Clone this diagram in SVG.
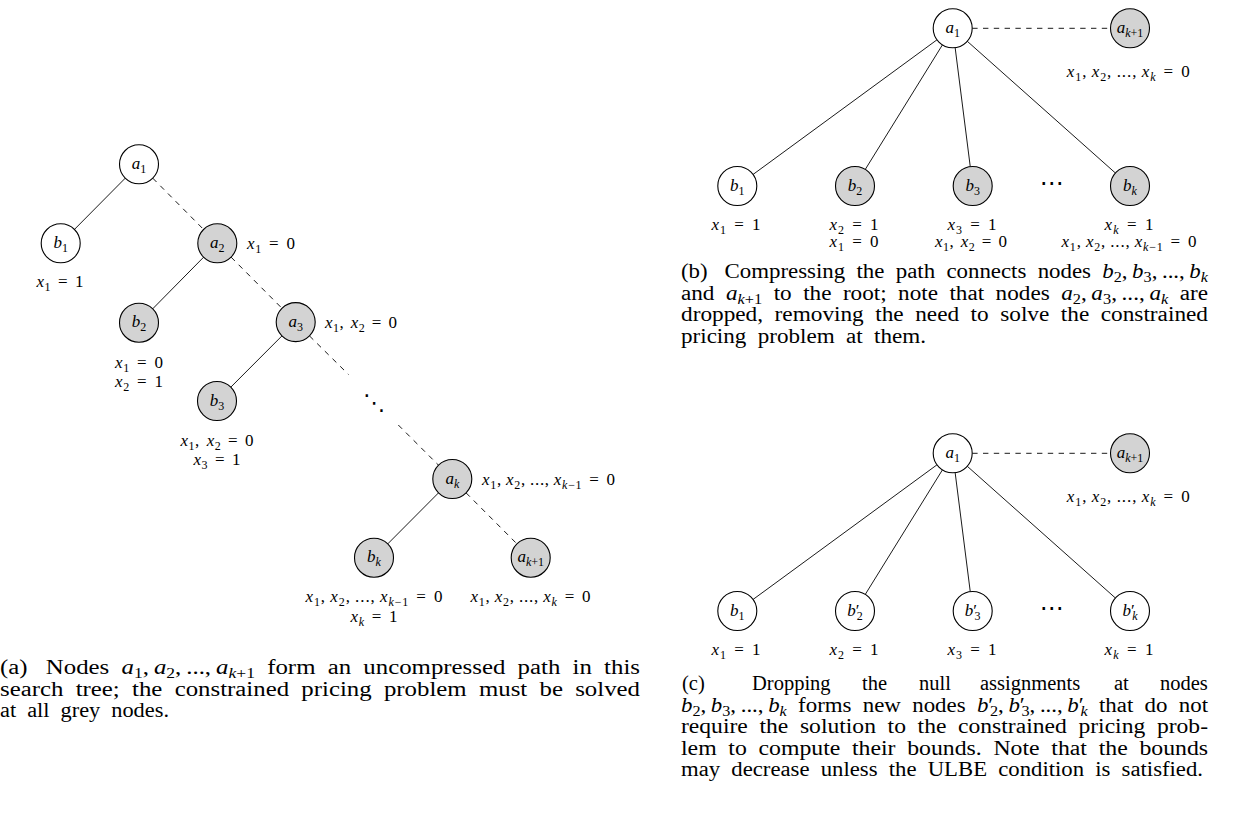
<svg xmlns="http://www.w3.org/2000/svg" width="1257" height="819" viewBox="0 0 1257 819">
<style>
.n{stroke:#000;stroke-width:1.1}
.w{fill:#fff}
.g{fill:#d3d3d3}
.e{stroke:#000;stroke-width:0.9;fill:none}
.d{stroke-dasharray:5.4 5.4}
text{font-family:"Liberation Serif","Times New Roman",serif;fill:#000}
.t{font-size:17px;word-spacing:2px}
.m{text-anchor:middle}
.i{font-style:italic}
.s{font-size:12px;baseline-shift:-3.5px}
.c{font-size:20.5px;word-spacing:5px}
.cs{font-size:14.5px;baseline-shift:-4px}
.dt{font-family:"DejaVu Sans",sans-serif;text-anchor:middle}
</style>
<rect width="1257" height="819" fill="#fff"/>
<g id="connectors">
<line class="e" x1="125.27" y1="178.15" x2="74.43" y2="229.45"/>
<line class="e d" x1="152.73" y1="178.15" x2="203.57" y2="229.45"/>
<line class="e" x1="203.61" y1="257.18" x2="152.69" y2="308.82"/>
<line class="e d" x1="231.05" y1="257.12" x2="281.95" y2="308.28"/>
<line class="e" x1="281.93" y1="335.91" x2="230.77" y2="387.19"/>
<line class="e d" x1="309.47" y1="335.91" x2="348.5" y2="374.5"/>
<line class="e d" x1="398.3" y1="425" x2="438.5" y2="465.2"/>
<line class="e" x1="438.55" y1="492.83" x2="387.75" y2="543.87"/>
<line class="e d" x1="466.05" y1="492.83" x2="516.95" y2="543.87"/>
<line class="e" x1="936.97" y1="39.82" x2="753.03" y2="174.48"/>
<line class="e" x1="942.43" y1="44.88" x2="865.27" y2="169.42"/>
<line class="e" x1="955.15" y1="47.65" x2="970.25" y2="166.65"/>
<line class="e" x1="967.27" y1="41.26" x2="1115.43" y2="173.04"/>
<line class="e d" x1="972.2" y1="28.3" x2="1110.5" y2="28.3"/>
<line class="e" x1="936.97" y1="464.82" x2="753.03" y2="599.48"/>
<line class="e" x1="942.43" y1="469.88" x2="865.27" y2="594.42"/>
<line class="e" x1="955.15" y1="472.65" x2="970.25" y2="591.65"/>
<line class="e" x1="967.27" y1="466.26" x2="1115.43" y2="598.04"/>
<line class="e d" x1="972.2" y1="453.3" x2="1110.5" y2="453.3"/>
<text class="dt" x="374" y="410" font-size="22">⋱</text>
<text class="dt" x="1051.7" y="191" font-size="24">⋯</text>
<text class="dt" x="1051.7" y="616" font-size="24">⋯</text>
</g>
<g id="tree-a">
<g id="a-a1"><circle class="n w" cx="139" cy="164.3" r="19.5"/><text class="t m" x="139" y="169"><tspan class="i">a</tspan><tspan class="s">1</tspan></text></g>
<g id="a-b1"><circle class="n w" cx="60.7" cy="243.3" r="19.5"/><text class="t m" x="60.7" y="248"><tspan class="i">b</tspan><tspan class="s">1</tspan></text>
<text class="t m" x="60" y="287" textLength="47" lengthAdjust="spacing"><tspan class="i">x</tspan><tspan class="s">1</tspan> = 1</text></g>
<g id="a-a2"><circle class="n g" cx="217.3" cy="243.3" r="19.5"/><text class="t m" x="217.3" y="248"><tspan class="i">a</tspan><tspan class="s">2</tspan></text>
<text class="t" x="247" y="249" textLength="48" lengthAdjust="spacing"><tspan class="i">x</tspan><tspan class="s">1</tspan> = 0</text></g>
<g id="a-b2"><circle class="n g" cx="139" cy="322.7" r="19.5"/><text class="t m" x="139" y="327.4"><tspan class="i">b</tspan><tspan class="s">2</tspan></text>
<text class="t m" x="139" y="367.5" textLength="48" lengthAdjust="spacing"><tspan class="i">x</tspan><tspan class="s">1</tspan> = 0</text>
<text class="t m" x="139" y="387" textLength="48" lengthAdjust="spacing"><tspan class="i">x</tspan><tspan class="s">2</tspan> = 1</text></g>
<g id="a-a3"><circle class="n g" cx="295.7" cy="322.1" r="19.5"/><text class="t m" x="295.7" y="326.8"><tspan class="i">a</tspan><tspan class="s">3</tspan></text>
<text class="t" x="325" y="327.5" textLength="72" lengthAdjust="spacing"><tspan class="i">x</tspan><tspan class="s">1</tspan>, <tspan class="i">x</tspan><tspan class="s">2</tspan> = 0</text></g>
<g id="a-b3"><circle class="n g" cx="217" cy="401" r="19.5"/><text class="t m" x="217" y="405.7"><tspan class="i">b</tspan><tspan class="s">3</tspan></text>
<text class="t m" x="217" y="445.5" textLength="73" lengthAdjust="spacing"><tspan class="i">x</tspan><tspan class="s">1</tspan>, <tspan class="i">x</tspan><tspan class="s">2</tspan> = 0</text>
<text class="t m" x="217" y="464.5" textLength="47" lengthAdjust="spacing"><tspan class="i">x</tspan><tspan class="s">3</tspan> = 1</text></g>
<g id="a-ak"><circle class="n g" cx="452.3" cy="479" r="19.5"/><text class="t m" x="452.3" y="483.7"><tspan class="i">a</tspan><tspan class="s i">k</tspan></text>
<text class="t" x="482" y="484.5" textLength="133" lengthAdjust="spacing"><tspan class="i">x</tspan><tspan class="s">1</tspan>,&#8201;<tspan class="i">x</tspan><tspan class="s">2</tspan>,&#8201;...,&#8201;<tspan class="i">x</tspan><tspan class="s"><tspan class="i">k</tspan>−1</tspan> = 0</text></g>
<g id="a-bk"><circle class="n g" cx="374" cy="557.7" r="19.5"/><text class="t m" x="374" y="562.4"><tspan class="i">b</tspan><tspan class="s i">k</tspan></text>
<text class="t m" x="374" y="602" textLength="137" lengthAdjust="spacing"><tspan class="i">x</tspan><tspan class="s">1</tspan>,&#8201;<tspan class="i">x</tspan><tspan class="s">2</tspan>,&#8201;...,&#8201;<tspan class="i">x</tspan><tspan class="s"><tspan class="i">k</tspan>−1</tspan> = 0</text>
<text class="t m" x="374" y="622" textLength="47" lengthAdjust="spacing"><tspan class="i">x</tspan><tspan class="s i">k</tspan> = 1</text></g>
<g id="a-ak1"><circle class="n g" cx="530.7" cy="557.7" r="19.5"/><text class="t m" x="530.7" y="562.4"><tspan class="i">a</tspan><tspan class="s"><tspan class="i">k</tspan>+1</tspan></text>
<text class="t m" x="530.5" y="602" textLength="120" lengthAdjust="spacing"><tspan class="i">x</tspan><tspan class="s">1</tspan>,&#8201;<tspan class="i">x</tspan><tspan class="s">2</tspan>,&#8201;...,&#8201;<tspan class="i">x</tspan><tspan class="s i">k</tspan> = 0</text></g>
</g>
<g id="tree-b">
<g id="b-a1"><circle class="n w" cx="952.7" cy="28.3" r="19.5"/><text class="t m" x="952.7" y="33"><tspan class="i">a</tspan><tspan class="s">1</tspan></text></g>
<g id="b-ak1"><circle class="n g" cx="1130" cy="28.3" r="19.5"/><text class="t m" x="1130" y="33"><tspan class="i">a</tspan><tspan class="s"><tspan class="i">k</tspan>+1</tspan></text>
<text class="t m" x="1128.3" y="77" textLength="123" lengthAdjust="spacing"><tspan class="i">x</tspan><tspan class="s">1</tspan>,&#8201;<tspan class="i">x</tspan><tspan class="s">2</tspan>,&#8201;...,&#8201;<tspan class="i">x</tspan><tspan class="s i">k</tspan> = 0</text></g>
<g id="b-b1"><circle class="n w" cx="737.3" cy="186" r="19.5"/><text class="t m" x="737.3" y="190.7"><tspan class="i">b</tspan><tspan class="s">1</tspan></text>
<text class="t m" x="736" y="229.5" textLength="49" lengthAdjust="spacing"><tspan class="i">x</tspan><tspan class="s">1</tspan> = 1</text></g>
<g id="b-b2"><circle class="n g" cx="855" cy="186" r="19.5"/><text class="t m" x="855" y="190.7"><tspan class="i">b</tspan><tspan class="s">2</tspan></text>
<text class="t m" x="854" y="229.5" textLength="49" lengthAdjust="spacing"><tspan class="i">x</tspan><tspan class="s">2</tspan> = 1</text>
<text class="t m" x="854" y="247" textLength="49" lengthAdjust="spacing"><tspan class="i">x</tspan><tspan class="s">1</tspan> = 0</text></g>
<g id="b-b3"><circle class="n g" cx="972.7" cy="186" r="19.5"/><text class="t m" x="972.7" y="190.7"><tspan class="i">b</tspan><tspan class="s">3</tspan></text>
<text class="t m" x="972" y="229.5" textLength="49" lengthAdjust="spacing"><tspan class="i">x</tspan><tspan class="s">3</tspan> = 1</text>
<text class="t m" x="971" y="247" textLength="72" lengthAdjust="spacing"><tspan class="i">x</tspan><tspan class="s">1</tspan>, <tspan class="i">x</tspan><tspan class="s">2</tspan> = 0</text></g>
<g id="b-bk"><circle class="n g" cx="1130" cy="186" r="19.5"/><text class="t m" x="1130" y="190.7"><tspan class="i">b</tspan><tspan class="s i">k</tspan></text>
<text class="t m" x="1129" y="229.5" textLength="49" lengthAdjust="spacing"><tspan class="i">x</tspan><tspan class="s i">k</tspan> = 1</text>
<text class="t m" x="1129" y="247" textLength="135" lengthAdjust="spacing"><tspan class="i">x</tspan><tspan class="s">1</tspan>,&#8201;<tspan class="i">x</tspan><tspan class="s">2</tspan>,&#8201;...,&#8201;<tspan class="i">x</tspan><tspan class="s"><tspan class="i">k</tspan>−1</tspan> = 0</text></g>
</g>
<g id="tree-c">
<g id="c-a1"><circle class="n w" cx="952.7" cy="453.3" r="19.5"/><text class="t m" x="952.7" y="458"><tspan class="i">a</tspan><tspan class="s">1</tspan></text></g>
<g id="c-ak1"><circle class="n g" cx="1130" cy="453.3" r="19.5"/><text class="t m" x="1130" y="458"><tspan class="i">a</tspan><tspan class="s"><tspan class="i">k</tspan>+1</tspan></text>
<text class="t m" x="1128.3" y="502" textLength="123" lengthAdjust="spacing"><tspan class="i">x</tspan><tspan class="s">1</tspan>,&#8201;<tspan class="i">x</tspan><tspan class="s">2</tspan>,&#8201;...,&#8201;<tspan class="i">x</tspan><tspan class="s i">k</tspan> = 0</text></g>
<g id="c-b1"><circle class="n w" cx="737.3" cy="611" r="19.5"/><text class="t m" x="737.3" y="615.7"><tspan class="i">b</tspan><tspan class="s">1</tspan></text>
<text class="t m" x="736" y="655" textLength="49" lengthAdjust="spacing"><tspan class="i">x</tspan><tspan class="s">1</tspan> = 1</text></g>
<g id="c-b2p"><circle class="n w" cx="855" cy="611" r="19.5"/><text class="t m" x="855" y="615.7"><tspan class="i">b</tspan>′<tspan class="s" dx="-2.5">2</tspan></text>
<text class="t m" x="854" y="655" textLength="49" lengthAdjust="spacing"><tspan class="i">x</tspan><tspan class="s">2</tspan> = 1</text></g>
<g id="c-b3p"><circle class="n w" cx="972.7" cy="611" r="19.5"/><text class="t m" x="972.7" y="615.7"><tspan class="i">b</tspan>′<tspan class="s" dx="-2.5">3</tspan></text>
<text class="t m" x="972" y="655" textLength="49" lengthAdjust="spacing"><tspan class="i">x</tspan><tspan class="s">3</tspan> = 1</text></g>
<g id="c-bkp"><circle class="n w" cx="1130" cy="611" r="19.5"/><text class="t m" x="1130" y="615.7"><tspan class="i">b</tspan>′<tspan class="s i" dx="-2.5">k</tspan></text>
<text class="t m" x="1129" y="655" textLength="49" lengthAdjust="spacing"><tspan class="i">x</tspan><tspan class="s i">k</tspan> = 1</text></g>
</g>
<g id="captions">
<text class="c" x="0" y="674" textLength="640" lengthAdjust="spacingAndGlyphs">(a) <tspan dx="5">Nodes</tspan> <tspan class="i">a</tspan><tspan class="cs">1</tspan>,&#8201;<tspan class="i">a</tspan><tspan class="cs">2</tspan>,&#8201;...,&#8201;<tspan class="i">a</tspan><tspan class="cs"><tspan class="i">k</tspan>+1</tspan> form an uncompressed path in this</text>
<text class="c" x="0" y="695.5" textLength="640" lengthAdjust="spacingAndGlyphs">search tree; the constrained pricing problem must be solved</text>
<text class="c" x="0" y="717" textLength="169" lengthAdjust="spacingAndGlyphs">at all grey nodes.</text>
<text class="c" x="681" y="278" textLength="527" lengthAdjust="spacingAndGlyphs">(b) <tspan dx="5">Compressing</tspan> the path connects nodes <tspan class="i">b</tspan><tspan class="cs">2</tspan>,&#8201;<tspan class="i">b</tspan><tspan class="cs">3</tspan>,&#8201;...,&#8201;<tspan class="i">b</tspan><tspan class="cs i">k</tspan></text>
<text class="c" x="681" y="299.5" textLength="527" lengthAdjust="spacingAndGlyphs">and <tspan class="i">a</tspan><tspan class="cs"><tspan class="i">k</tspan>+1</tspan> to the root; note that nodes <tspan class="i">a</tspan><tspan class="cs">2</tspan>,&#8201;<tspan class="i">a</tspan><tspan class="cs">3</tspan>,&#8201;...,&#8201;<tspan class="i">a</tspan><tspan class="cs i">k</tspan> are</text>
<text class="c" x="681" y="321" textLength="527" lengthAdjust="spacingAndGlyphs">dropped, removing the need to solve the constrained</text>
<text class="c" x="681" y="342.5" textLength="245" lengthAdjust="spacingAndGlyphs">pricing problem at them.</text>
<text class="c" y="690"><tspan x="682">(c)</tspan><tspan x="752">Dropping</tspan><tspan x="862">the</tspan><tspan x="919">null</tspan><tspan x="980">assignments</tspan><tspan x="1114">at</tspan><tspan x="1160">nodes</tspan></text>
<text class="c" x="681" y="711.5" textLength="527" lengthAdjust="spacingAndGlyphs"><tspan class="i">b</tspan><tspan class="cs">2</tspan>,&#8201;<tspan class="i">b</tspan><tspan class="cs">3</tspan>,&#8201;...,&#8201;<tspan class="i">b</tspan><tspan class="cs i">k</tspan> forms new nodes <tspan class="i">b</tspan>′<tspan class="cs" dx="-3">2</tspan>,&#8201;<tspan class="i">b</tspan>′<tspan class="cs" dx="-3">3</tspan>,&#8201;...,&#8201;<tspan class="i">b</tspan>′<tspan class="cs i" dx="-3">k</tspan> that do not</text>
<text class="c" x="681" y="733" textLength="527" lengthAdjust="spacingAndGlyphs">require the solution to the constrained pricing prob-</text>
<text class="c" x="681" y="754.5" textLength="527" lengthAdjust="spacingAndGlyphs">lem to compute their bounds. Note that the bounds</text>
<text class="c" x="681" y="776" textLength="522" lengthAdjust="spacingAndGlyphs">may decrease unless the ULBE condition is satisfied.</text>
</g>
</svg>
